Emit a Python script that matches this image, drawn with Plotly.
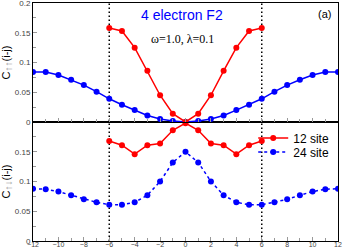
import plotly.graph_objects as go

# ---- data ----
x24 = list(range(-12, 13))
x12 = list(range(-6, 7))

top24 = [0.084, 0.084, 0.079, 0.071, 0.062, 0.051, 0.039, 0.029, 0.020, 0.011, 0.005, 0.0015, 0.0,
         0.0015, 0.005, 0.011, 0.020, 0.029, 0.039, 0.051, 0.062, 0.071, 0.079, 0.084, 0.084]
top12 = [0.158, 0.153, 0.125, 0.086, 0.045, 0.014, 0.0, 0.014, 0.045, 0.086, 0.125, 0.153, 0.158]

bot24 = [0.088, 0.087, 0.083, 0.077, 0.070, 0.065, 0.061, 0.061, 0.065, 0.077, 0.100, 0.132, 0.150,
         0.132, 0.100, 0.077, 0.065, 0.061, 0.061, 0.065, 0.070, 0.077, 0.083, 0.087, 0.088]
bot12 = [0.168, 0.161, 0.146, 0.161, 0.164, 0.186, 0.198, 0.186, 0.164, 0.161, 0.146, 0.161, 0.168]

vlines = [-6, 6]
xticks = list(range(-12, 13, 2))
yticks_top = [0, 0.05, 0.1, 0.15, 0.2]
yticks_bot = [0, 0.05, 0.1, 0.15]
ytext_top = ["0", "0.05", "0.1", "0.15", "0.2"]
ytext_bot = ["0", "0.05", "0.1", "0.15"]

RED = "#ff0000"
BLUE = "#0000ff"
FONT = "Liberation Sans, Arial, sans-serif"

fig = go.Figure()

fig.add_trace(go.Scatter(x=x24, y=top24, mode="lines+markers", xaxis="x2", yaxis="y2",
                         line=dict(color=BLUE, width=1.5), marker=dict(color=BLUE, size=6),
                         showlegend=False))
fig.add_trace(go.Scatter(x=x12, y=top12, mode="lines+markers", xaxis="x2", yaxis="y2",
                         line=dict(color=RED, width=1.5), marker=dict(color=RED, size=6),
                         showlegend=False))
fig.add_trace(go.Scatter(x=x12, y=bot12, mode="lines+markers", xaxis="x", yaxis="y",
                         line=dict(color=RED, width=1.5), marker=dict(color=RED, size=6),
                         name="12 site", legend="legend"))
fig.add_trace(go.Scatter(x=x24, y=bot24, mode="lines+markers", xaxis="x", yaxis="y",
                         line=dict(color=BLUE, width=1.5, dash="dot"), marker=dict(color=BLUE, size=6),
                         name="24 site", legend="legend2"))

for v in vlines:
    fig.add_shape(type="line", xref="x", yref="paper", x0=v, x1=v, y0=0, y1=1,
                  line=dict(color="black", width=1.5, dash="1.5px,2.5px"), layer="below")

common_x = dict(range=[-12, 12], tickmode="array", tickvals=xticks, ticks="inside", ticklen=4,
                tickcolor="#999", showline=True, linecolor="black", linewidth=1, mirror=True,
                showgrid=False, zeroline=False, ticklabeloverflow="allow",
                minor=dict(dtick=1, ticks="inside", ticklen=3, tickcolor="#999"))
common_y = dict(range=[0, 0.2], ticks="inside", ticklen=4, tickcolor="#999", showline=True,
                linecolor="black", linewidth=1, mirror=True, showgrid=False, zeroline=False,
                ticklabeloverflow="allow",
                minor=dict(dtick=0.025, ticks="inside", ticklen=3, tickcolor="#999"),
                tickfont=dict(size=8, color="#444", family=FONT))

leg = dict(xanchor="left", yanchor="middle", bgcolor="rgba(0,0,0,0)",
           font=dict(size=12, family=FONT), itemwidth=30)

fig.update_layout(
    width=344, height=251,
    margin=dict(l=33, r=6, t=3, b=10, autoexpand=False),
    paper_bgcolor="white", plot_bgcolor="white",
    font=dict(family=FONT, size=9, color="black"),
    xaxis=dict(common_x, anchor="y", domain=[0, 1], ticklabelstandoff=-3,
               tickfont=dict(size=7, color="#444", family=FONT)),
    xaxis2=dict(common_x, anchor="y2", domain=[0, 1], matches="x", showticklabels=False),
    yaxis=dict(common_y, anchor="x", domain=[0, 0.5], tickvals=yticks_bot, ticktext=ytext_bot,
               title=dict(text="C<sub><span style='color:#999;font-size:10px'>↑↓</span></sub>(i-j)",
                          font=dict(size=11, family=FONT), standoff=6)),
    yaxis2=dict(common_y, anchor="x2", domain=[0.5, 1], tickvals=yticks_top, ticktext=ytext_top,
                title=dict(text="C<sub><span style='color:#999;font-size:10px'>↑↑</span></sub>(i-j)",
                           font=dict(size=11, family=FONT), standoff=6)),
    legend=dict(leg, x=0.722, y=0.433),
    legend2=dict(leg, x=0.722, y=0.374),
    annotations=[
        dict(text="4 electron F2", xref="paper", yref="paper", x=0.49, y=0.95, showarrow=False,
             font=dict(size=14, color=BLUE, family=FONT), xanchor="center", yanchor="middle"),
        dict(text="ω=1.0, λ=0.1", xref="paper", yref="paper", x=0.49, y=0.85, showarrow=False,
             font=dict(size=12, color="black", family="Liberation Serif, Times New Roman, serif"),
             xanchor="center", yanchor="middle"),
        dict(text="(a)", xref="paper", yref="paper", x=0.985, y=0.955, showarrow=False,
             font=dict(size=11, color="black", family=FONT), xanchor="right", yanchor="middle"),
    ],
)

fig.write_html("out.html", config={"displayModeBar": False},
               post_script="document.body.style.margin='0';document.body.style.overflow='hidden';")
